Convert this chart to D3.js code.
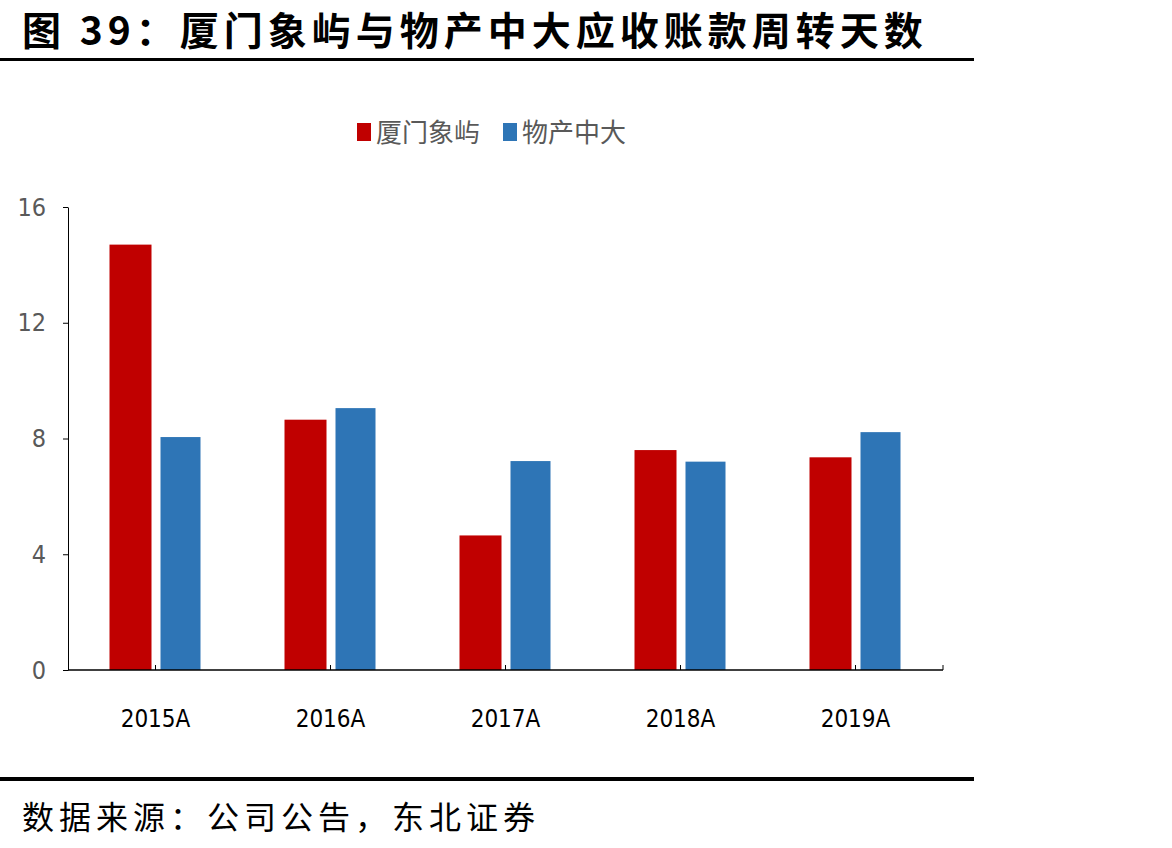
<!DOCTYPE html>
<html>
<head>
<meta charset="utf-8">
<script src="https://cdn.jsdelivr.net/npm/d3@7"></script>
<style>
  body { margin: 0; background: #fff; }
  svg { display: block; }
</style>
</head>
<body>
<svg id="chart" width="1172" height="848"></svg>
<script>
let years = ['2015A', '2016A', '2017A', '2018A', '2019A'],
    seriesNames = ['厦门象屿', '物产中大'],
    xiamen = [14.7, 8.65, 4.65, 7.6, 7.35],
    wuchan = [8.05, 9.05, 7.22, 7.2, 8.22],
    yTicks = [0, 4, 8, 12, 16],
    colors = ['#C00000', '#2E75B6'];

const svg = d3.select('#chart'),
    numFont = '"Liberation Sans Narrow", "DejaVu Sans Condensed", "Noto Sans", sans-serif',
    cjk = '"Noto Sans CJK SC", sans-serif';

//titre et lignes
svg.append('text').attr('x', 22).attr('y', 45)
    .attr('font-family', cjk).attr('font-weight', 'bold')
    .attr('font-size', 39).attr('letter-spacing', 5).attr('fill', '#000')
    .text('图 39：厦门象屿与物产中大应收账款周转天数');
svg.append('rect').attr('x', 0).attr('y', 58).attr('width', 974).attr('height', 3).attr('fill', '#000');
svg.append('rect').attr('x', 0).attr('y', 777).attr('width', 974).attr('height', 4).attr('fill', '#000');
svg.append('text').attr('x', 22).attr('y', 829)
    .attr('font-family', cjk).attr('font-size', 32).attr('letter-spacing', 5).attr('fill', '#000')
    .text('数据来源：公司公告，东北证券');

//echelles
const x = d3.scaleBand().domain(years).range([68, 943]),
    y = d3.scaleLinear().domain([0, 16]).range([670, 207]);

//axe y
const gy = svg.append('g').attr('transform', 'translate(68,0)')
    .call(d3.axisLeft(y).tickValues(yTicks).tickSize(5).tickSizeOuter(0));
gy.select('.domain').attr('stroke', '#000');
gy.selectAll('.tick line').attr('stroke', '#000');
gy.selectAll('.tick text').attr('x', -22)
    .attr('font-family', numFont).attr('font-size', 25).attr('fill', '#595959');

//barres
const rows = years.map((yr, i) => ({yr, vals: [xiamen[i], wuchan[i]]}));
const bw = [42, 40], off = [-46, 5];
svg.append('g').selectAll('g').data(rows).enter().append('g')
    .selectAll('rect').data(d => d.vals.map((v, k) => ({yr: d.yr, v, k}))).enter()
    .append('rect')
    .attr('x', d => x(d.yr) + x.bandwidth() / 2 + off[d.k])
    .attr('width', d => bw[d.k])
    .attr('y', d => y(d.v))
    .attr('height', d => y(0) - y(d.v))
    .attr('fill', d => colors[d.k]);

//axe x : ticks au centre des categories
const gx = svg.append('g').attr('transform', 'translate(0,670)');
gx.append('line').attr('x1', 68).attr('x2', 943).attr('stroke', '#000').attr('stroke-width', 1.5);
gx.selectAll('.tk').data(years).enter().append('line')
    .attr('x1', d => x(d) + x.bandwidth() / 2).attr('x2', d => x(d) + x.bandwidth() / 2)
    .attr('y1', 0).attr('y2', -5).attr('stroke', '#000');
gx.append('line').attr('x1', 943).attr('x2', 943).attr('y1', 0).attr('y2', -5).attr('stroke', '#000');
gx.selectAll('.lbl').data(years).enter().append('text')
    .attr('x', d => x(d) + x.bandwidth() / 2).attr('y', 57)
    .attr('text-anchor', 'middle')
    .attr('font-family', numFont).attr('font-size', 24).attr('fill', '#000')
    .text(d => d);

//legende
const leg = svg.append('g').selectAll('g').data(seriesNames).enter().append('g')
    .attr('transform', (d, i) => `translate(${357 + i * 146},123)`);
leg.append('rect').attr('width', 14).attr('height', 18).attr('fill', (d, i) => colors[i]);
leg.append('text').attr('x', 19).attr('y', 19)
    .attr('font-family', cjk).attr('font-size', 26).attr('fill', '#595959')
    .text(d => d);
</script>
</body>
</html>
